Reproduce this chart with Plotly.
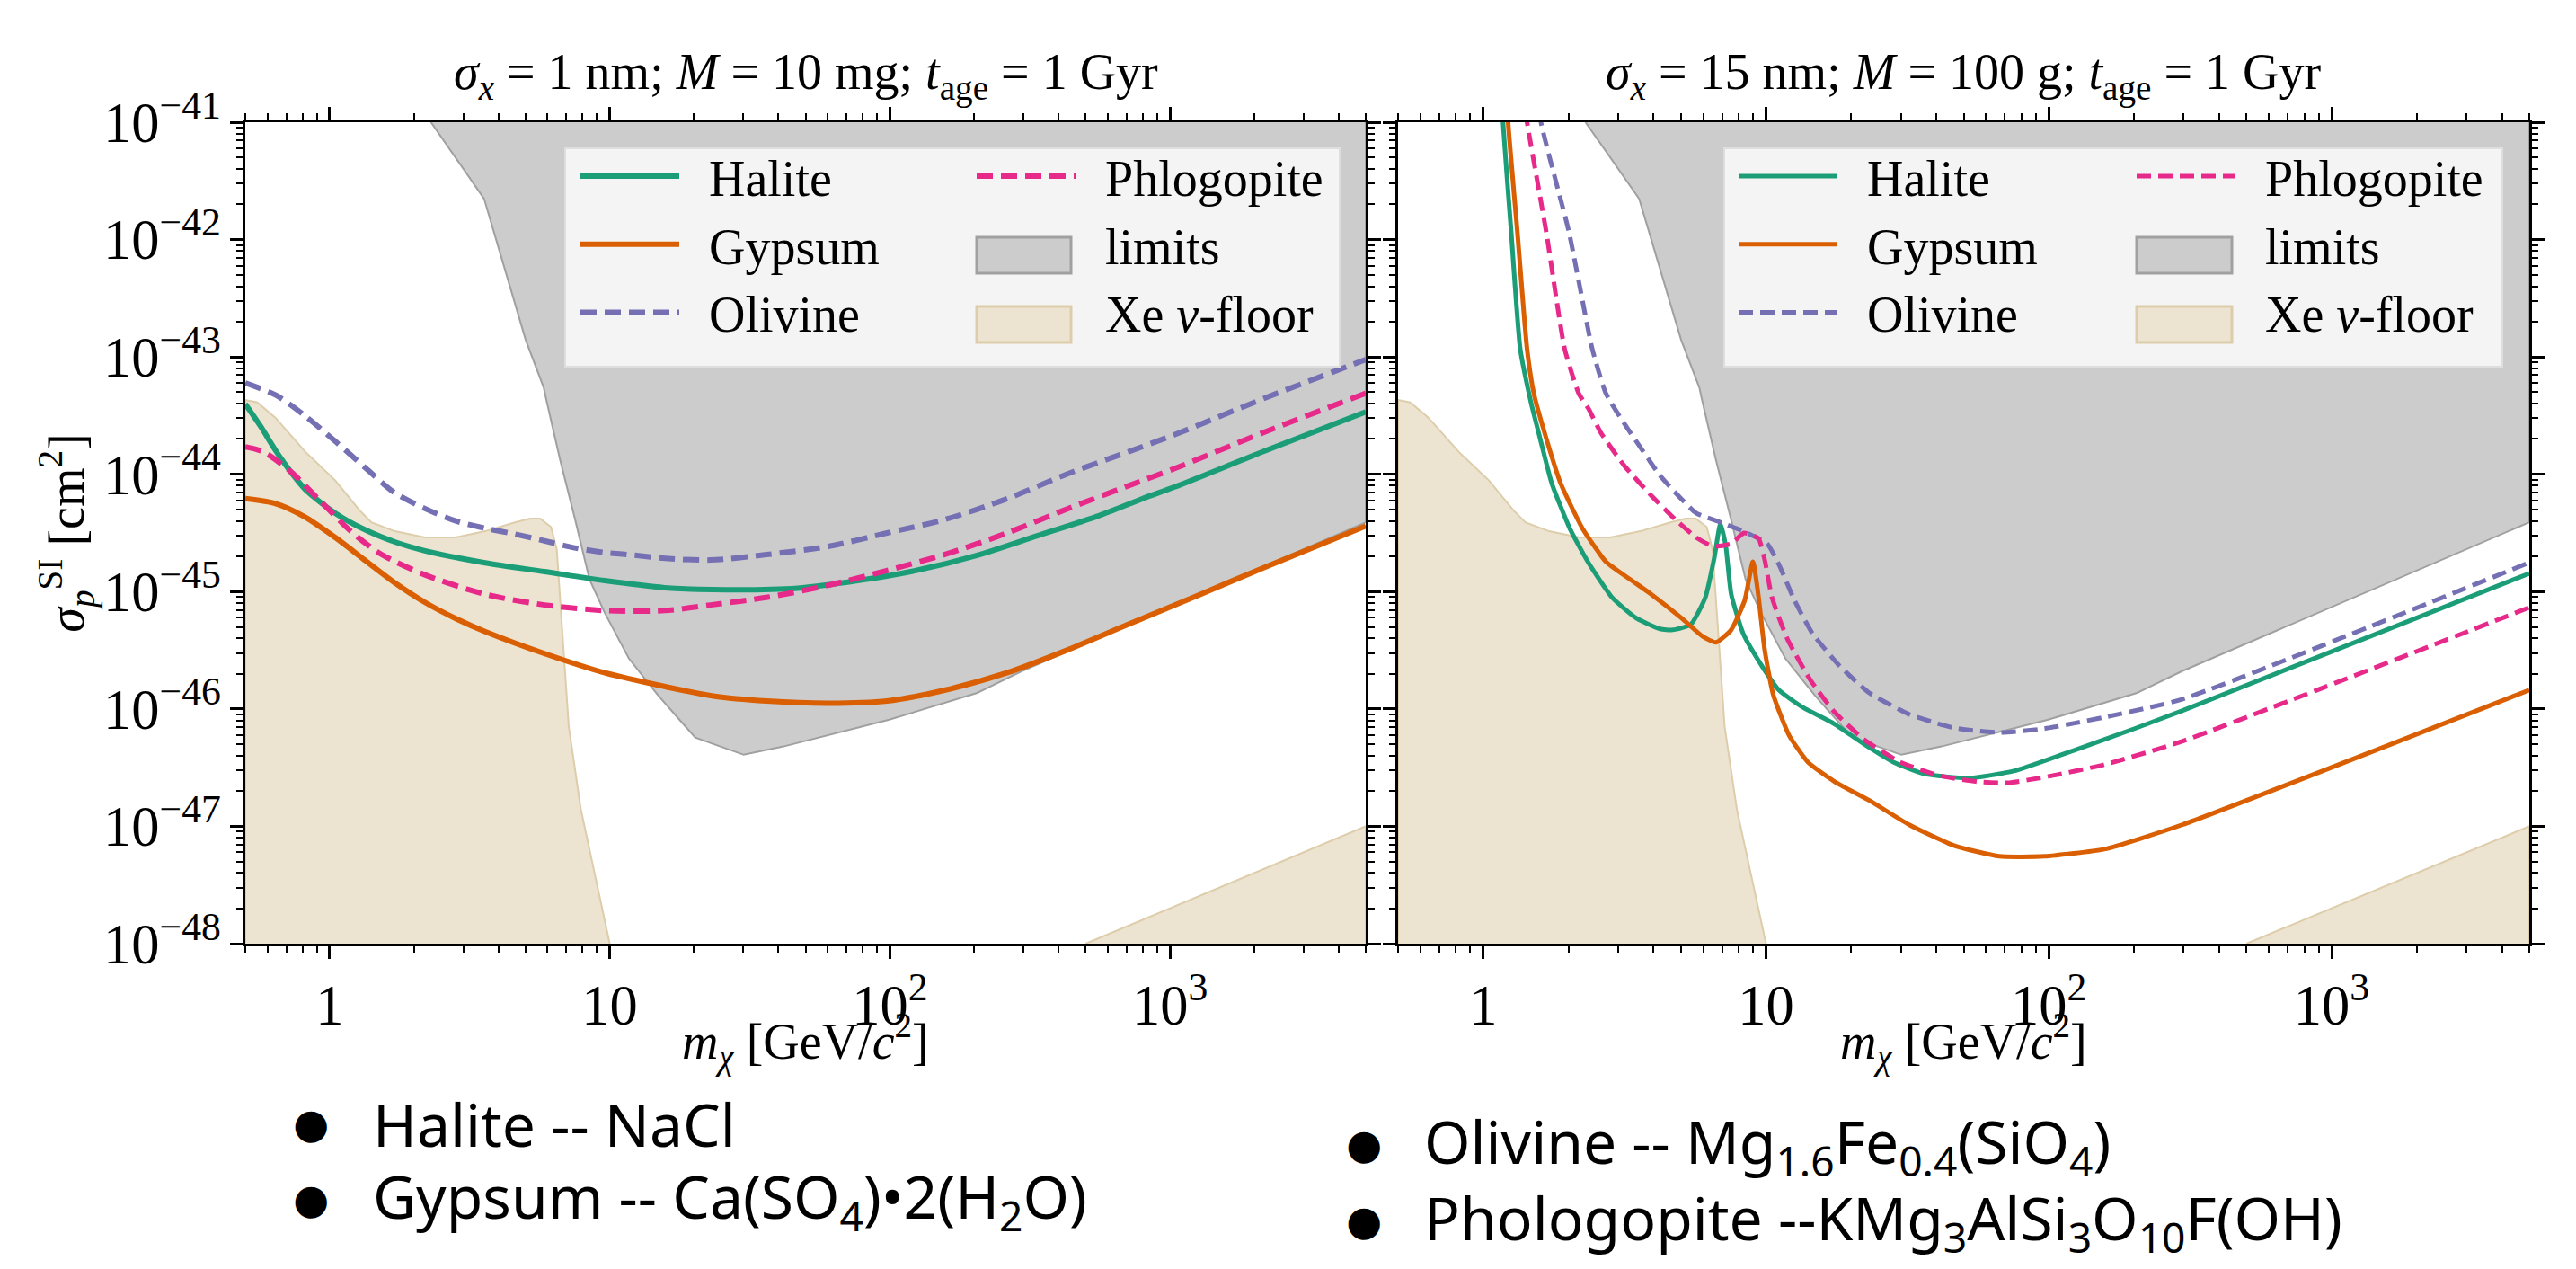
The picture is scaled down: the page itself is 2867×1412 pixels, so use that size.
import math
import plotly.graph_objects as go

# ---------------- data ----------------
# masses in GeV/c^2, cross sections in cm^2
# Left panel: sigma_x = 1 nm, M = 10 mg
halite_L_m = [0.50, 0.568, 0.641, 0.724, 0.82, 1.05, 1.34, 1.71, 2.19, 3.59, 5.86, 9.6, 15.7, 23.3,
              46.9, 76.7, 125, 205, 336, 548, 813, 1040, 2180, 5000]
halite_L_s = [3.98e-44, 2.55e-44, 1.6e-44, 1.06e-44, 7.4e-45, 4.65e-45, 3.36e-45, 2.65e-45, 2.23e-45,
              1.76e-45, 1.48e-45, 1.24e-45, 1.08e-45, 1.04e-45, 1.07e-45, 1.24e-45, 1.52e-45, 2.04e-45,
              2.99e-45, 4.37e-45, 6.3e-45, 7.8e-45, 1.58e-44, 3.4e-44]

gypsum_L_m = [0.50, 0.645, 0.81, 1.05, 1.35, 1.70, 2.19, 2.82, 3.59, 5.89, 9.55, 15.8, 23.4, 36.3,
              60.3, 97.7, 158, 263, 427, 708, 1259, 2188, 5000]
gypsum_L_s = [6.2e-45, 5.6e-45, 4.37e-45, 2.88e-45, 1.82e-45, 1.2e-45, 8.1e-46, 5.9e-46, 4.57e-46,
              2.95e-46, 2.04e-46, 1.55e-46, 1.29e-46, 1.17e-46, 1.12e-46, 1.17e-46, 1.45e-46, 2.04e-46,
              3.16e-46, 5.25e-46, 9.3e-46, 1.62e-45, 3.63e-45]

olivine_L_m = [0.50, 0.645, 0.81, 1.05, 1.35, 1.70, 2.19, 2.82, 3.59, 4.57, 5.89, 7.5, 9.55, 12.3,
               15.8, 22.9, 36.3, 60.3, 97.7, 158, 263, 427, 708, 1047, 2188, 5000]
olivine_L_s = [6.0e-44, 4.7e-44, 3.2e-44, 1.9e-44, 1.12e-44, 7.0e-45, 5.1e-45, 4.0e-45, 3.47e-45,
               3.1e-45, 2.7e-45, 2.36e-45, 2.16e-45, 2.04e-45, 1.92e-45, 1.86e-45, 2.07e-45, 2.43e-45,
               3.16e-45, 4.13e-45, 6.2e-45, 1.0e-44, 1.55e-44, 2.19e-44, 4.47e-44, 9.5e-44]

phlogopite_L_m = [0.50, 0.581, 0.724, 0.927, 1.19, 1.52, 2.19, 3.59, 5.86, 9.6, 15.7, 22.9, 36.6, 60,
                  98.2, 160, 262, 430, 702, 1040, 2178, 5000]
phlogopite_L_s = [1.71e-44, 1.55e-44, 1.06e-44, 5.9e-45, 3.27e-45, 2.1e-45, 1.39e-45, 9.5e-46, 7.7e-46,
                  6.9e-46, 6.9e-46, 7.7e-46, 8.95e-46, 1.13e-45, 1.52e-45, 2.1e-45, 3.16e-45, 5.07e-45,
                  7.9e-45, 1.12e-44, 2.29e-44, 4.9e-44]

# Right panel: sigma_x = 15 nm, M = 100 g
halite_R_m = [1.13, 1.175, 1.256, 1.352, 1.476, 1.589, 1.748, 2.023, 2.344, 2.858, 3.483, 4.217, 4.677,
              5.42, 6.10, 6.56, 6.90, 7.21, 7.53, 8.30, 9.40, 11.1, 13.6, 17.3, 22.2, 28.2, 36.1, 52.0,
              75.2, 123, 201, 296, 5000]
halite_R_s = [1e-40, 1.0e-41, 1.16e-42, 1.17e-43, 4.08e-44, 2.02e-44, 8.36e-45, 3.46e-45, 1.8e-45, 8.9e-46,
              5.93e-46, 4.81e-46, 4.72e-46, 5.25e-46, 8.9e-46, 1.93e-45, 3.78e-45, 2.43e-45, 9.55e-46,
              4.4e-46, 2.59e-46, 1.45e-46, 1.02e-46, 7.55e-47, 5.02e-47, 3.53e-47, 2.81e-47, 2.57e-47,
              2.96e-47, 4.45e-47, 6.8e-47, 9.66e-47, 1.43e-45]

gypsum_R_m = [1.175, 1.225, 1.321, 1.429, 1.510, 1.671, 1.879, 2.244, 2.716, 3.311, 3.917, 5.035, 5.957,
              6.65, 7.53, 8.41, 8.99, 9.40, 9.89, 10.6, 12.05, 14.06, 17.5, 23.2, 32.1, 46.2, 66.8, 96.4,
              157, 296, 5000]
gypsum_R_s = [1e-40, 1e-41, 1.16e-42, 1.17e-43, 4.88e-44, 2.02e-44, 8.36e-45, 3.46e-45, 1.8e-45, 1.27e-45,
              9.55e-46, 5.93e-46, 4.17e-46, 3.69e-46, 4.72e-46, 8.45e-46, 1.8e-45, 9.2e-46, 3.2e-46,
              1.33e-46, 6.0e-47, 3.53e-47, 2.4e-47, 1.66e-47, 1.03e-47, 6.85e-48, 5.55e-48, 5.55e-48,
              6.38e-48, 1.03e-47, 1.45e-46]

olivine_R_m = [1.393, 1.60, 2.01, 2.43, 2.716, 3.148, 3.837, 4.188, 4.677, 5.66, 6.85, 8.30, 10.1, 11.1,
               12.6, 14.6, 18.2, 23.2, 32.1, 46.2, 66.8, 96.4, 157, 296, 5000]
olivine_R_s = [1e-40, 1e-41, 1.16e-42, 1.17e-43, 4.88e-44, 2.72e-44, 1.35e-44, 9.98e-45, 7.38e-45,
               4.67e-45, 3.92e-45, 3.28e-45, 2.56e-45, 1.71e-45, 8.45e-46, 4.4e-46, 2.33e-46, 1.37e-46,
               9.0e-47, 6.9e-47, 6.3e-47, 6.8e-47, 8.5e-47, 1.21e-46, 1.77e-45]

phlogopite_R_m = [1.247, 1.429, 1.671, 1.941, 2.178, 2.36, 2.60, 3.148, 3.917, 4.775, 5.66, 6.50, 7.53,
                  8.36, 9.40, 9.89, 10.5, 11.9, 14.3, 17.4, 22.2, 29.8, 40.8, 56.0, 71.8, 96.4, 157, 296,
                  5000]
phlogopite_R_s = [1e-40, 1e-41, 1.16e-42, 1.17e-43, 4.88e-44, 3.6e-44, 2.28e-44, 1.19e-44, 6.64e-45,
                  4.13e-45, 2.9e-45, 2.43e-45, 2.56e-45, 3.16e-45, 2.85e-45, 1.87e-45, 8.9e-46, 3.95e-46,
                  1.79e-46, 9.5e-47, 5.5e-47, 3.53e-47, 2.71e-47, 2.4e-47, 2.35e-47, 2.62e-47, 3.35e-47,
                  5.3e-47, 7.33e-46]

# existing experimental limits (lower boundary of excluded region)
limits_m = [2.30, 3.56, 5.01, 5.81, 5.94, 6.64, 7.52, 8.47, 9.6, 11.7, 14.9, 20.2, 30.1, 41.7, 99.5,
            205, 296, 5000]
limits_s = [1e-41, 2.23e-42, 1.4e-43, 5.5e-44, 4.3e-44, 1.35e-44, 4.13e-45, 1.27e-45, 6.6e-46, 2.7e-46,
            1.3e-46, 5.7e-47, 4.07e-47, 4.79e-47, 8.1e-47, 1.37e-46, 2.1e-46, 3.9e-45]

# Xe neutrino floor
floor_lo_m = [0.50, 0.552, 0.64, 0.82, 1.048, 1.28, 1.41, 1.71, 2.19, 2.81, 3.59, 4.59, 5.19, 5.64,
              6.17, 6.47, 6.79, 7.14, 7.89, 10.0]
floor_lo_s = [4.3e-44, 4.1e-44, 3.04e-44, 1.55e-44, 8.85e-45, 4.92e-45, 3.89e-45, 3.27e-45, 2.9e-45,
              2.9e-45, 3.27e-45, 3.89e-45, 4.2e-45, 4.2e-45, 3.56e-45, 2.29e-45, 3.95e-46, 7.1e-47,
              1.39e-47, 1e-48]
floor_hi_m = [500, 5000]
floor_hi_s = [1e-48, 1e-47]

x_axis_range = [0.5, 5000]
y_axis_range = [1e-48, 1e-41]

# ---------------- styling ----------------
SERIF = "Liberation Serif"
SANS = "Noto Sans"
C_HAL, C_GYP, C_OLI, C_PHL = "#1b9e77", "#d95f02", "#7570b3", "#e7298a"
C_LIM, C_LIM_EDGE = "rgb(204,204,204)", "rgb(160,160,160)"
C_XE, C_XE_EDGE = "rgb(236,227,208)", "rgb(221,205,170)"
FS = 50      # tick labels
FS_L = 56    # legend / axis titles
FS_T = 56    # panel titles
NB = "\u00a0\u00a0"  # gap between legend key and label

W, H = 2867, 1412
xdomL = [265 / W, 1512 / W]
xdomR = [1548 / W, 2807 / W]
ydom = [1 - 1042 / H, 1 - 128 / H]
BOTTOM = 1e-50
TOP = 1e-40

fig = go.Figure()


def add_panel(xa, ya, lg_a, lg_b, curves, lw, dash, smooth):
    # Xe neutrino floor (low mass)
    fig.add_trace(go.Scatter(
        x=[floor_lo_m[0]] + floor_lo_m + [floor_lo_m[-1]],
        y=[BOTTOM] + floor_lo_s + [BOTTOM],
        mode="lines", fill="toself", fillcolor=C_XE,
        line=dict(color=C_XE_EDGE, width=2), showlegend=False,
        xaxis=xa, yaxis=ya, hoverinfo="skip"))
    # Xe neutrino floor (high mass)
    fig.add_trace(go.Scatter(
        x=floor_hi_m + [floor_hi_m[-1], floor_hi_m[0]],
        y=floor_hi_s + [BOTTOM, BOTTOM],
        mode="lines", fill="toself", fillcolor=C_XE,
        line=dict(color=C_XE_EDGE, width=2), showlegend=False,
        xaxis=xa, yaxis=ya, hoverinfo="skip"))
    # limits
    fig.add_trace(go.Scatter(
        x=limits_m + [limits_m[-1], limits_m[0]],
        y=limits_s + [TOP, TOP],
        mode="lines", fill="toself", fillcolor=C_LIM,
        line=dict(color=C_LIM_EDGE, width=2), showlegend=False,
        xaxis=xa, yaxis=ya, hoverinfo="skip"))
    for (name, m, s, col, dsh, lg, rank) in curves:
        fig.add_trace(go.Scatter(
            x=m, y=s, mode="lines", name=NB + name,
            line=dict(color=col, width=lw, dash=(dash if dsh else "solid"), shape="spline",
                      smoothing=smooth),
            legend=(lg_a if lg == "a" else lg_b), legendgroup=name + xa, legendrank=rank,
            xaxis=xa, yaxis=ya))
    # legend entries for the filled areas (key boxes drawn as frame decorations below)
    fig.add_trace(go.Scatter(
        x=[None], y=[None], mode="lines", name=NB + "limits",
        line=dict(color="rgba(0,0,0,0)", width=1), legend=lg_b, legendgroup="lim" + xa,
        legendrank=2, xaxis=xa, yaxis=ya))
    fig.add_trace(go.Scatter(
        x=[None], y=[None], mode="lines", name=NB + "Xe <i>ν</i>-floor",
        line=dict(color="rgba(0,0,0,0)", width=1), legend=lg_b, legendgroup="xe" + xa,
        legendrank=3, xaxis=xa, yaxis=ya))


add_panel("x", "y", "legend", "legend2", [
    ("Halite", halite_L_m, halite_L_s, C_HAL, False, "a", 1),
    ("Gypsum", gypsum_L_m, gypsum_L_s, C_GYP, False, "a", 2),
    ("Olivine", olivine_L_m, olivine_L_s, C_OLI, True, "a", 3),
    ("Phlogopite", phlogopite_L_m, phlogopite_L_s, C_PHL, True, "b", 1),
], lw=6, dash="18px,9px", smooth=0.8)

add_panel("x2", "y2", "legend3", "legend4", [
    ("Halite", halite_R_m, halite_R_s, C_HAL, False, "a", 1),
    ("Gypsum", gypsum_R_m, gypsum_R_s, C_GYP, False, "a", 2),
    ("Olivine", olivine_R_m, olivine_R_s, C_OLI, True, "a", 3),
    ("Phlogopite", phlogopite_R_m, phlogopite_R_s, C_PHL, True, "b", 1),
], lw=5, dash="16px,8px", smooth=0.5)

xr = [math.log10(x_axis_range[0]), math.log10(x_axis_range[1])]
yr = [math.log10(y_axis_range[0]), math.log10(y_axis_range[1])]

axis_common = dict(
    type="log", showline=True, linecolor="black", linewidth=3, mirror="ticks",
    ticks="outside", ticklen=14, tickwidth=3, tickcolor="black", automargin=False,
    showgrid=False, zeroline=False, exponentformat="power", dtick=1,
    minor=dict(ticks="outside", ticklen=7, tickwidth=2, tickcolor="black", showgrid=False),
    tickfont=dict(family=SERIF, size=FS, color="black"),
)

fig.update_layout(
    xaxis=dict(axis_common, domain=xdomL, range=xr, anchor="y"),
    xaxis2=dict(axis_common, domain=xdomR, range=xr, anchor="y2"),
    yaxis=dict(axis_common, domain=ydom, range=yr, anchor="x",
               title=dict(text="<i>σ</i><sub><i>p</i></sub><sup>SI</sup> [cm<sup>2</sup>]",
                          font=dict(family=SERIF, size=FS_L), standoff=4)),
    yaxis2=dict(axis_common, domain=ydom, range=yr, anchor="x2", showticklabels=False),
)

leg_common = dict(bgcolor="rgba(0,0,0,0)", borderwidth=0, orientation="v",
                  font=dict(family=SERIF, size=FS_L, color="black"),
                  itemwidth=110, tracegroupgap=0, xanchor="left", yanchor="top",
                  y=1 - 145 / H, traceorder="grouped")
fig.update_layout(
    legend=dict(leg_common, x=633 / W),
    legend2=dict(leg_common, x=1074 / W),
    legend3=dict(leg_common, x=1922 / W),
    legend4=dict(leg_common, x=2365 / W),
)

# legend frames and key boxes for the filled areas
for (x0, x1, kx0, kx1) in [(621, 1483, 1079, 1184), (1911, 2777, 2370, 2476)]:
    fig.add_shape(type="rect", xref="paper", yref="paper",
                  x0=x0 / W, x1=x1 / W, y0=1 - 400 / H, y1=1 - 157 / H,
                  fillcolor="rgb(244,244,244)", line=dict(color="rgb(222,222,222)", width=2),
                  layer="above")
    fig.add_shape(type="rect", xref="paper", yref="paper",
                  x0=kx0 / W, x1=kx1 / W, y0=1 - 296 / H, y1=1 - 256 / H,
                  fillcolor=C_LIM, line=dict(color="rgb(160,160,160)", width=3), layer="above")
    fig.add_shape(type="rect", xref="paper", yref="paper",
                  x0=kx0 / W, x1=kx1 / W, y0=1 - 373 / H, y1=1 - 333 / H,
                  fillcolor=C_XE, line=dict(color=C_XE_EDGE, width=3), layer="above")

# panel titles and x-axis titles
titles = [
    "<i>σ</i><sub><i>x</i></sub> = 1 nm; <i>M</i> = 10 mg; <i>t</i><sub>age</sub> = 1 Gyr",
    "<i>σ</i><sub><i>x</i></sub> = 15 nm; <i>M</i> = 100 g; <i>t</i><sub>age</sub> = 1 Gyr",
]
xtitle = "<i>m</i><sub><i>χ</i></sub> [GeV/<i>c</i><sup>2</sup>]"
for t, dom in zip(titles, [xdomL, xdomR]):
    xc = (dom[0] + dom[1]) / 2
    fig.add_annotation(text=t, xref="paper", yref="paper", x=xc, y=1 - 77 / H,
                       showarrow=False, xanchor="center", yanchor="middle",
                       font=dict(family=SERIF, size=FS_T, color="black"))
    fig.add_annotation(text=xtitle, xref="paper", yref="paper", x=xc, y=1 - 1150 / H,
                       showarrow=False, xanchor="center", yanchor="middle",
                       font=dict(family=SERIF, size=FS_L, color="black"))

# mineral list below the plots
notes = [
    (338, 405, 1242, "Halite -- NaCl"),
    (338, 405, 1326, "Gypsum -- Ca(SO<sub>4</sub>)•2(H<sub>2</sub>O)"),
    (1510, 1575, 1265, "Olivine -- Mg<sub>1.6</sub>Fe<sub>0.4</sub>(SiO<sub>4</sub>)"),
    (1510, 1575, 1350, "Phologopite --KMg<sub>3</sub>AlSi<sub>3</sub>O<sub>10</sub>F(OH)"),
]
for bx, tx, yy, txt in notes:
    fig.add_annotation(text="●", xref="paper", yref="paper", x=bx / W, y=1 - yy / H,
                       showarrow=False, xanchor="center", yanchor="middle",
                       font=dict(family="DejaVu Sans", size=46, color="black"))
    fig.add_annotation(text=txt, xref="paper", yref="paper", x=tx / W, y=1 - yy / H,
                       showarrow=False, xanchor="left", yanchor="middle",
                       font=dict(family=SANS, size=66, color="black"))

fig.update_layout(
    width=W, height=H, autosize=False,
    margin=dict(l=0, r=0, t=0, b=0, autoexpand=False),
    paper_bgcolor="white", plot_bgcolor="white",
    font=dict(family=SERIF, color="black"),
)

fig.write_html("out.html")
